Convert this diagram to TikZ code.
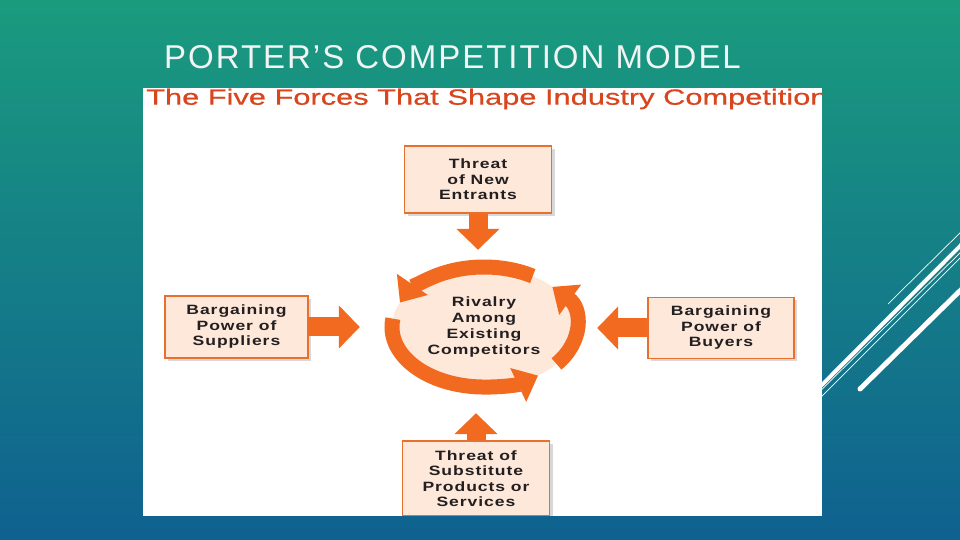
\documentclass[tikz,border=0pt]{standalone}
\usepackage{fontspec}
\setmainfont{Liberation Sans}
\newfontfamily\headfont{Liberation Sans}[LetterSpace=6]
\newfontfamily\panelfont{Liberation Sans}[FakeStretch=1.4, FakeBold=0.6]
\newfontfamily\forcefont{Liberation Sans}[FakeStretch=1.3, LetterSpace=7]
\usepackage{tikz}
\usetikzlibrary{
  arrows.meta,
  shapes.geometric,
  positioning,
  shadows,
  calc
}
\definecolor{ptBgTop}{HTML}{1A9B7E}
\definecolor{ptBgBot}{HTML}{0F6190}
\definecolor{ptHead}{HTML}{F2F4F4}
\definecolor{ptRed}{HTML}{D9461E}
\definecolor{ptFill}{HTML}{FDE8DA}
\definecolor{ptLine}{HTML}{E8702F}
\definecolor{ptArrow}{HTML}{F26A1F}
\definecolor{ptText}{HTML}{231F20}
\tikzset{
  forcebox/.style={
    draw=ptLine, line width=1.6pt, fill=ptFill, inner sep=2pt,
    font=\forcefont\bfseries\fontsize{13.5}{15.5}\selectfont, align=center, text=ptText,
    drop shadow={shadow xshift=3pt, shadow yshift=-3pt, opacity=0.3}
  },
  force/.style={line width=19pt, ptArrow, -{Triangle[width=42pt, length=21pt]}},
  ringarrow/.style={line width=15pt, ptArrow, -{Triangle[width=36pt, length=22pt]}},
  deco/.style={white, line cap=round}
}

\begin{document}
\begin{tikzpicture}[x=1pt, y=1pt]
  \useasboundingbox (0,0) rectangle (960,540);
  \shade[top color=ptBgTop, bottom color=ptBgBot] (0,0) rectangle (960,540);

  % slide corner lines
  \draw[deco, line width=4pt] (800,133) -- (972,306);
  \draw[deco, line width=0.7pt] (800,129) -- (972,299);
  \draw[deco, line width=0.7pt] (800,122) -- (972,294);
  \draw[deco, line width=5pt] (860,151) -- (972,261);
  \draw[deco, line width=0.7pt] (888,236) -- (972,319);

  \node[anchor=west, inner sep=0, text=ptHead, font=\headfont\fontsize{33}{38}\selectfont] (title) at (164,483) {PORTER’S COMPETITION MODEL};

  \node[fill=white, minimum width=679pt, minimum height=428pt, inner sep=0, anchor=south west] (panel) at (143,24) {};

  \begin{scope}
    \clip (panel.south west) rectangle (panel.north east);
    \node[anchor=west, inner sep=0, text=ptRed, font=\panelfont\fontsize{22}{26}\selectfont] (paneltitle) at (146,441) {The Five Forces That Shape Industry Competition};

    \node[ellipse, fill=ptFill, minimum width=184pt, minimum height=120pt, inner sep=0, align=center,
      font=\forcefont\bfseries\fontsize{13.5}{16}\selectfont, text=ptText] (rivalry) at (484,213) {Rivalry\\Among\\Existing\\Competitors};

    \node[forcebox, minimum width=147pt, minimum height=67pt, above=53pt of rivalry, xshift=-6pt] (newent) {Threat\\of New\\Entrants};
    \node[forcebox, minimum width=143pt, minimum height=62pt, left=83pt of rivalry] (suppliers) {Bargaining\\Power of\\Suppliers};
    \node[forcebox, minimum width=146pt, minimum height=61pt, right=71pt of rivalry, yshift=-1pt] (buyers) {Bargaining\\Power of\\Buyers};
    \node[forcebox, minimum width=147pt, minimum height=75pt, below=53pt of rivalry, xshift=-8pt] (substitutes) {Threat of\\Substitute\\Products or\\Services};

    \draw[force, shorten >=17pt] (newent.south) -- (newent.south |- rivalry.north);
    \draw[force, shorten >=32pt] (suppliers.east) -- (suppliers.east -| rivalry.west);
    \draw[force, shorten >=21pt] (buyers.west) -- (buyers.west -| rivalry.east);
    \draw[force, shorten >=26pt] (substitutes.north) -- (substitutes.north |- rivalry.south);

    \draw[ringarrow] (rivalry.center) ++(58:92pt and 60pt) arc[start angle=58, end angle=156, x radius=92pt, y radius=60pt];
    \draw[ringarrow] (rivalry.center) ++(172:92pt and 60pt) arc[start angle=172, end angle=306, x radius=92pt, y radius=60pt];
    \draw[ringarrow] (rivalry.center) ++(322:92pt and 60pt) arc[start angle=322, end angle=402, x radius=92pt, y radius=60pt];
  \end{scope}
\end{tikzpicture}
\end{document}
